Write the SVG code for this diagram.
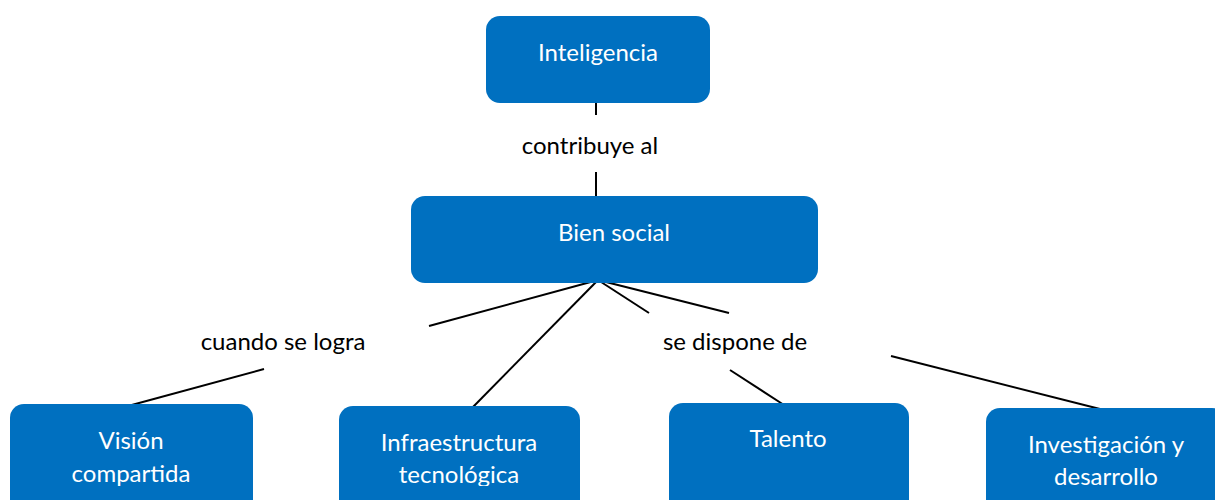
<svg xmlns="http://www.w3.org/2000/svg" width="1215" height="500" viewBox="0 0 1215 500">
<style>
.box{fill:#0070C0}
.nt{fill:#ffffff;font-family:Lato,"Liberation Sans",sans-serif;font-size:24px;text-anchor:middle}
.lb{fill:#000000;font-family:Lato,"Liberation Sans",sans-serif;font-size:24px;text-anchor:middle}
.ln{stroke:#000000;stroke-width:2;fill:none}
</style>
<defs>
<clipPath id="clipBottom"><rect x="0" y="0" width="1215" height="486"/></clipPath>
</defs>
<rect width="1215" height="500" fill="#ffffff"/>
<g id="connectors">
<line class="ln" x1="596" y1="103" x2="596" y2="115"/>
<line class="ln" x1="596" y1="172" x2="596" y2="196"/>
<line class="ln" x1="598" y1="280" x2="429" y2="326"/>
<line class="ln" x1="264" y1="369" x2="128" y2="406"/>
<line class="ln" x1="598" y1="280" x2="473" y2="407"/>
<line class="ln" x1="598" y1="280" x2="649" y2="313"/>
<line class="ln" x1="730" y1="370" x2="784" y2="405"/>
<line class="ln" x1="598" y1="280" x2="729" y2="313"/>
<line class="ln" x1="891" y1="356" x2="1100" y2="409"/>
</g>
<g id="labels">
<text class="lb" x="590" y="154">contribuye al</text>
<text class="lb" x="283" y="350">cuando se logra</text>
<text class="lb" x="735" y="350">se dispone de</text>
</g>
<g id="node-inteligencia">
<rect class="box" x="486" y="16" width="224" height="87" rx="14"/>
<text class="nt" x="598" y="61">Inteligencia</text>
</g>
<g id="node-bien-social">
<rect class="box" x="411" y="196" width="407" height="87" rx="14"/>
<text class="nt" x="614" y="241">Bien social</text>
</g>
<g id="node-vision">
<rect class="box" x="10" y="404" width="243" height="110" rx="14"/>
<text class="nt" clip-path="url(#clipBottom)" x="131" y="449">Visión<tspan x="131" y="482">compartida</tspan></text>
</g>
<g id="node-infraestructura">
<rect class="box" x="339" y="406" width="241" height="110" rx="14"/>
<text class="nt" clip-path="url(#clipBottom)" x="459" y="451">Infraestructura<tspan x="459" y="483">tecnológica</tspan></text>
</g>
<g id="node-talento">
<rect class="box" x="669" y="403" width="240" height="110" rx="14"/>
<text class="nt" x="788" y="447">Talento</text>
</g>
<g id="node-investigacion">
<rect class="box" x="986" y="408" width="240" height="110" rx="14"/>
<text class="nt" clip-path="url(#clipBottom)" x="1106" y="453">Investigación y<tspan x="1106" y="485">desarrollo</tspan></text>
</g>
</svg>
